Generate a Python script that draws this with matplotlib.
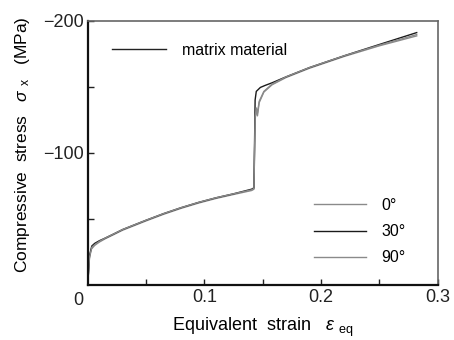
import numpy as np
import matplotlib.pyplot as plt
from matplotlib.lines import Line2D

plt.rcParams['font.family'] = ['Liberation Sans', 'DejaVu Sans']
plt.rcParams['mathtext.fontset'] = 'custom'
plt.rcParams['mathtext.it'] = 'Liberation Sans:italic'
plt.rcParams['mathtext.rm'] = 'Liberation Sans'

# strain / stress (MPa, compressive -> negative)
strain_30 = [0, 0.0015, 0.0035, 0.006, 0.01, 0.015, 0.022, 0.03, 0.04, 0.05,
             0.065, 0.08, 0.095, 0.11, 0.125, 0.1405, 0.1425,
             0.1435, 0.1445, 0.148, 0.152, 0.158, 0.17, 0.19, 0.22, 0.25, 0.282]
stress_30 = [0, -22, -29.5, -31.5, -33.5, -35.5, -38.5, -42, -45.5, -49,
             -54, -58.5, -62.5, -66, -69, -72.5, -73.5,
             -140, -146.5, -149.5, -151, -153, -157.5, -164.5, -173.5, -182, -191]

strain_0 = [0, 0.0015, 0.003, 0.006, 0.01, 0.015, 0.022, 0.03, 0.04, 0.05,
            0.065, 0.08, 0.095, 0.11, 0.125, 0.1405, 0.1425,
            0.1435, 0.1445, 0.1455, 0.147, 0.151, 0.158, 0.17, 0.19, 0.22, 0.25, 0.282]
stress_0 = [0, -20, -27, -30, -32.5, -35, -38, -41.5, -45, -48.5,
            -53.5, -58, -62, -65.5, -68.5, -71.5, -72.5,
            -125, -133, -128, -138, -146, -151.5, -157, -164, -173, -181, -188.5]

strain_90 = [0, 0.0015, 0.0035, 0.006, 0.01, 0.015, 0.022, 0.03, 0.04, 0.05,
             0.065, 0.08, 0.095, 0.11, 0.125, 0.1405, 0.1425,
             0.1435, 0.1445, 0.1455, 0.147, 0.151, 0.158, 0.17, 0.19, 0.22, 0.25, 0.282]
stress_90 = [0, -21, -28.5, -30.5, -33, -35.5, -38.5, -42, -45.5, -49,
             -54, -58.5, -62.5, -66, -69, -72, -73,
             -127, -134, -130, -139, -146.5, -152, -157.5, -164.5, -173.5, -181.5, -189.5]

labels = ["0°", "30°", "90°"]
colors = ["#8a8a8a", "#1a1a1a", "#8a8a8a"]

fig = plt.figure(figsize=(4.54, 3.40), dpi=100)
ax = fig.add_axes([87.7 / 454, 1 - 285 / 340, 350 / 454, 264.3 / 340])

series = [(strain_0, stress_0), (strain_30, stress_30), (strain_90, stress_90)]
handles = []
for (x, y), lab, c in zip(series, labels, colors):
    h, = ax.plot(x, y, color=c, lw=1.0, label=lab)
    handles.append(h)

ax.set_xlim(0, 0.3)
ax.set_ylim(0, -200)
ax.set_xticks([0.05, 0.1, 0.15, 0.2, 0.25, 0.3])
ax.set_xticklabels(["", "0.1", "", "0.2", "", "0.3"])
ax.set_yticks([-50, -100, -150, -200])
ax.set_yticklabels(["", "\u2212100", "", "\u2212200"])
ax.tick_params(direction="in", length=4, width=1, labelsize=13, pad=3,
               colors="#222222")
ax.annotate("0", xy=(0, 0), xytext=(-7, -5), textcoords="offset points",
            ha="center", va="top", fontsize=13, color="#222222")

for s in ["left", "bottom"]:
    ax.spines[s].set_linewidth(1.6)
    ax.spines[s].set_color("#111111")
for s in ["top", "right"]:
    ax.spines[s].set_linewidth(1.2)
    ax.spines[s].set_color("#666666")

ax.set_xlabel(r"Equivalent  strain   $\it{\varepsilon}$ $_{\rm eq}$",
              fontsize=13, labelpad=7)
ax.set_ylabel(r"Compressive  stress   $\it{\sigma}$ $_{\rm x}$   (MPa)",
              fontsize=12.5)
ax.yaxis.set_label_coords(-0.16, 0.53)

mat = Line2D([], [], color="#222222", lw=1.0)
leg1 = ax.legend([mat], ["matrix material"], loc="upper left",
                 bbox_to_anchor=(0.027, 0.97), frameon=False, fontsize=11.5,
                 handlelength=3.4, handletextpad=1.0)
ax.add_artist(leg1)
ax.legend(handles=handles, loc="lower right", bbox_to_anchor=(0.95, 0.02),
          frameon=False, fontsize=11.5, handlelength=3.2, handletextpad=1.0,
          labelspacing=0.7)

fig.savefig("out.png", dpi=100)
